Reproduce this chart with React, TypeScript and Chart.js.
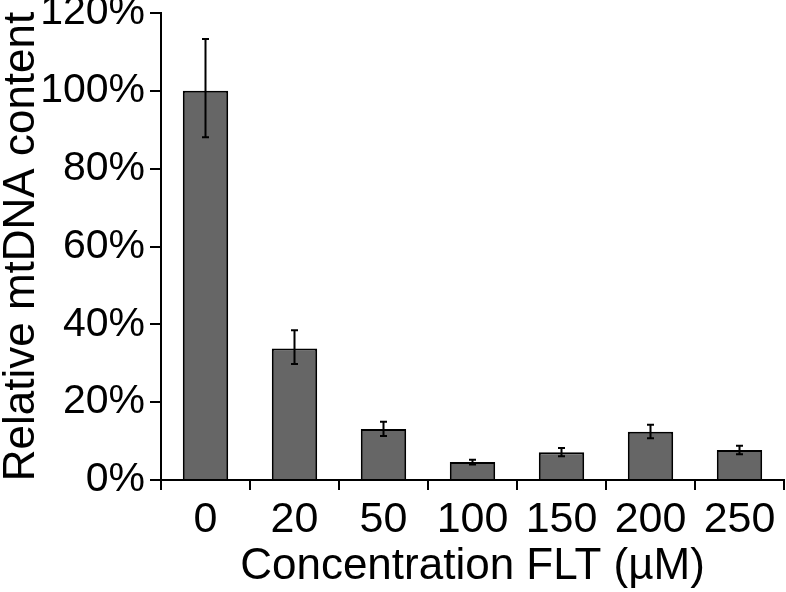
import React, { useEffect, useRef } from "react";
import { Chart, registerables } from "chart.js";

Chart.register(...registerables);

const categories = ["0", "20", "50", "100", "150", "200", "250"];
const meanValues = [100, 33.8, 13.1, 4.6, 7.1, 12.4, 7.7];
const errorUpper = [113.3, 38.5, 15.0, 5.2, 8.2, 14.2, 8.8];
const errorLower = [88.1, 29.8, 11.3, 4.0, 6.1, 10.7, 6.6];
const yTickValues = [0, 20, 40, 60, 80, 100, 120];

const FONT = "'Liberation Sans', Arial, sans-serif";

const errorBarPlugin = {
  id: "errorBars",
  afterDatasetsDraw(chart: any) {
    const meta = chart.getDatasetMeta(0);
    const yScale = chart.scales.y;
    const ctx = chart.ctx;
    ctx.save();
    ctx.strokeStyle = "#000000";
    ctx.lineWidth = 2;
    meta.data.forEach((bar: any, i: number) => {
      const x = bar.x;
      const yTop = yScale.getPixelForValue(errorUpper[i]);
      const yBot = yScale.getPixelForValue(errorLower[i]);
      const cap = 3.5;
      ctx.beginPath();
      ctx.moveTo(x, yTop);
      ctx.lineTo(x, yBot);
      ctx.moveTo(x - cap, yTop);
      ctx.lineTo(x + cap, yTop);
      ctx.moveTo(x - cap, yBot);
      ctx.lineTo(x + cap, yBot);
      ctx.stroke();
    });
    ctx.restore();
  },
};

export default function App() {
  const canvasRef = useRef<HTMLCanvasElement | null>(null);

  useEffect(() => {
    if (!canvasRef.current) return;
    const chart = new Chart(canvasRef.current, {
      type: "bar",
      data: {
        labels: categories,
        datasets: [
          {
            data: meanValues,
            backgroundColor: "#666666",
            borderColor: "#000000",
            borderWidth: 2,
            categoryPercentage: 1,
            barPercentage: 0.51,
          },
        ],
      },
      options: {
        responsive: false,
        animation: false,
        layout: { padding: { top: 13, right: 2, left: 0, bottom: 0 } },
        plugins: {
          legend: { display: false },
          tooltip: { enabled: false },
        },
        scales: {
          x: {
            grid: {
              offset: true,
              drawOnChartArea: false,
              drawTicks: true,
              tickLength: 10,
              color: "#000000",
              lineWidth: 2,
            },
            border: { display: true, color: "#000000", width: 2 },
            ticks: {
              color: "#000000",
              font: { family: FONT, size: 43 },
              padding: 4,
              maxRotation: 0,
              autoSkip: false,
            },
            title: {
              display: true,
              text: "Concentration FLT (µM)",
              color: "#000000",
              font: { family: FONT, size: 44, lineHeight: 1 },
              padding: { top: 0, bottom: 3 },
            },
            afterFit(scale: any) {
              scale.height = 112;
              scale.paddingLeft = 0;
              scale.paddingRight = 0;
            },
          },
          y: {
            min: 0,
            max: 120,
            afterBuildTicks(scale: any) {
              scale.ticks = yTickValues.map((v) => ({ value: v }));
            },
            grid: {
              drawOnChartArea: false,
              drawTicks: true,
              tickLength: 11,
              color: "#000000",
              lineWidth: 2,
            },
            border: { display: true, color: "#000000", width: 2 },
            ticks: {
              color: "#000000",
              font: { family: FONT, size: 41 },
              padding: 5,
              callback: (v: any) => `${v}%`,
            },
            title: {
              display: true,
              text: "Relative mtDNA content",
              color: "#000000",
              font: { family: FONT, size: 44, lineHeight: 1 },
              padding: { top: 0, bottom: 0 },
            },
            afterFit(scale: any) {
              scale.width = 161;
              scale.paddingTop = 0;
              scale.paddingBottom = 0;
            },
          },
        },
      },
      plugins: [errorBarPlugin],
    });
    return () => chart.destroy();
  }, []);

  return (
    <div
      style={{
        position: "fixed",
        left: 0,
        top: 0,
        width: 786,
        height: 592,
        background: "#ffffff",
      }}
    >
      <canvas ref={canvasRef} width={786} height={592} />
    </div>
  );
}
